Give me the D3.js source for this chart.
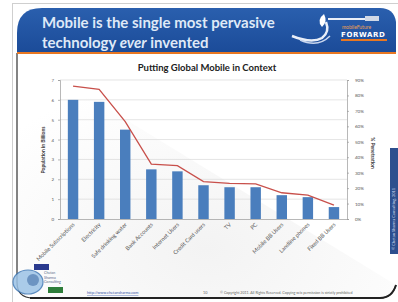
<!DOCTYPE html>
<html>
<head>
<meta charset="utf-8">
<script src="https://cdn.jsdelivr.net/npm/d3@7"></script>
<style>
  html, body { margin: 0; padding: 0; background: #fff; }
  svg { display: block; }
</style>
</head>
<body>
<svg id="chart" width="398" height="302"></svg>
<script>
const categories = ["Mobile Subscriptions", "Electricity", "Safe drinking water", "Bank Accounts",
  "Internet Users", "Credit Card users", "TV", "PC", "Mobile BB Users", "Landline phones", "Fixed BB Users"];
const population = [6.0, 5.9, 4.5, 2.5, 2.4, 1.7, 1.6, 1.6, 1.2, 1.1, 0.6];
const penetration = [0.86, 0.84, 0.63, 0.355, 0.345, 0.242, 0.231, 0.228, 0.17, 0.155, 0.09];
const leftTicks = [0, 1, 2, 3, 4, 5, 6, 7];
const rightTicks = [0, 0.1, 0.2, 0.3, 0.4, 0.5, 0.6, 0.7, 0.8, 0.9];
const slideTitle = ["Mobile is the single most pervasive", "technology ", "ever", " invented"];
const chartTitle = "Putting Global Mobile in Context";

const svg = d3.select("#chart");
const font = "Lato, 'Open Sans', sans-serif";

// page background / outer border
svg.append("rect").attr("x", 0).attr("y", 0).attr("width", 398).attr("height", 302).attr("fill", "#fff");
svg.append("rect").attr("x", 12.5).attr("y", 3.5).attr("width", 400).attr("height", 310)
  .attr("fill", "none").attr("stroke", "#cfcfcf").attr("stroke-width", 1);

// slide frame
const defs = svg.append("defs");
const grad = defs.append("linearGradient").attr("id", "hdr").attr("x1", 0).attr("y1", 0).attr("x2", 0).attr("y2", 1);
grad.append("stop").attr("offset", "0%").attr("stop-color", "#2a5fae");
grad.append("stop").attr("offset", "100%").attr("stop-color", "#1b4b98");
const bg = defs.append("radialGradient").attr("id", "bgG").attr("cx", "0.5").attr("cy", "0.8").attr("r", "0.7");
bg.append("stop").attr("offset", "0%").attr("stop-color", "#f3f3f3");
bg.append("stop").attr("offset", "100%").attr("stop-color", "#ffffff");

svg.append("path")
  .attr("d", "M17,53 L17,282 Q17,298 33,298 L380,298 Q392,298 396,285")
  .attr("fill", "url(#bgG)").attr("stroke", "#333").attr("stroke-width", 1.2);
svg.append("path")
  .attr("d", "M30,298 L380,298 Q392,298 396,285").attr("fill", "none").attr("stroke", "#222").attr("stroke-width", 2);

// header
svg.append("path")
  .attr("d", "M17,53 L17,33 Q17,8 42,8 L380,8 Q394,8 396,22 L396,53 Z")
  .attr("fill", "url(#hdr)");
svg.append("rect").attr("x", 17).attr("y", 52).attr("width", 379).attr("height", 2).attr("fill", "#e87722");

const ht = svg.append("text").attr("font-family", "Lato, 'Open Sans', sans-serif").attr("font-weight", "bold")
  .attr("font-size", 15).attr("fill", "#dfe9f7");
ht.append("tspan").attr("x", 42).attr("y", 28).text(slideTitle[0]);
const l2 = ht.append("tspan").attr("x", 42).attr("y", 48);
l2.text(slideTitle[1]);
ht.append("tspan").attr("font-style", "italic").text(slideTitle[2]);
ht.append("tspan").text(slideTitle[3]);

// logo
const logo = svg.append("g");
logo.append("path").attr("d", "M292,36 Q312,44 322,38 Q330,32 326,22")
  .attr("fill", "none").attr("stroke", "#e8eef8").attr("stroke-width", 2.5);
logo.append("path").attr("d", "M300,40 Q318,48 330,36")
  .attr("fill", "none").attr("stroke", "#c9d6ee").attr("stroke-width", 1.5);
logo.append("path").attr("d", "M324,14 Q316,20 322,27 Q328,22 324,14 Z").attr("fill", "#ffffff");
logo.append("rect").attr("x", 328).attr("y", 18).attr("width", 50).attr("height", 2).attr("fill", "#e8eef8");
logo.append("rect").attr("x", 365).attr("y", 16).attr("width", 14).attr("height", 5).attr("fill", "#d0d8e6");
logo.append("text").attr("x", 342).attr("y", 29).attr("font-family", font).attr("font-size", 5)
  .attr("fill", "#f0a050").text("mobileFuture");
logo.append("text").attr("x", 341).attr("y", 37).attr("font-family", "'DejaVu Sans', sans-serif")
  .attr("font-weight", "bold").attr("font-size", 7).attr("fill", "#ffffff").attr("letter-spacing", 0.6).text("FORWARD");
logo.append("rect").attr("x", 341).attr("y", 39).attr("width", 46).attr("height", 2).attr("fill", "#e87722");

// right vertical tab
svg.append("rect").attr("x", 390).attr("y", 148).attr("width", 8).attr("height", 106).attr("fill", "#2d4f8e");
svg.append("text").attr("transform", "translate(395,250) rotate(-90)").attr("font-family", font)
  .attr("font-size", 4).attr("fill", "#c8d4ea").text("© Chetan Sharma Consulting, 2011");

// chart
const x0 = 60, x1 = 347, yTop = 80, yBot = 219;
const x = d3.scaleBand().domain(categories).range([x0, x1]).paddingInner(0.6).paddingOuter(0.3);
const yL = d3.scaleLinear().domain([0, 7]).range([yBot, yTop]);
const yR = d3.scaleLinear().domain([0, 0.9]).range([yBot, yTop]);

svg.append("text").attr("x", 207).attr("y", 71).attr("text-anchor", "middle").attr("font-family", font)
  .attr("font-weight", "bold").attr("font-size", 9.5).attr("fill", "#222").text(chartTitle);

// gridlines
svg.append("g").selectAll("line").data(leftTicks.slice(1)).join("line")
  .attr("x1", x0).attr("x2", x1).attr("y1", d => yL(d)).attr("y2", d => yL(d))
  .attr("stroke", "#d8d8d8").attr("stroke-width", 0.7);

// axes
const axL = svg.append("g").attr("transform", `translate(${x0},0)`)
  .call(d3.axisLeft(yL).tickValues(leftTicks).tickSize(2).tickPadding(4).tickFormat(d3.format("d")));
const axR = svg.append("g").attr("transform", `translate(${x1},0)`)
  .call(d3.axisRight(yR).tickValues(rightTicks).tickSize(2).tickPadding(6).tickFormat(d3.format(".0%")));
const axB = svg.append("g").attr("transform", `translate(0,${yBot})`)
  .call(d3.axisBottom(x).tickSize(0).tickFormat(""));
[axL, axR, axB].forEach(a => {
  a.selectAll("path,line").attr("stroke", "#9a9a9a").attr("stroke-width", 0.7);
  a.selectAll("text").attr("font-family", font).attr("font-size", 4.5).attr("fill", "#555");
});

// bars
svg.append("g").selectAll("rect").data(population).join("rect")
  .attr("x", (d, i) => x(categories[i])).attr("width", x.bandwidth())
  .attr("y", d => yL(d)).attr("height", d => yL(0) - yL(d))
  .attr("fill", "#4a7ebd");

// line
const line = d3.line().x((d, i) => x(categories[i]) + x.bandwidth() / 2).y(d => yR(d));
svg.append("path").datum(penetration).attr("d", line)
  .attr("fill", "none").attr("stroke", "#c8504b").attr("stroke-width", 1.3);

// category labels
svg.append("g").selectAll("text").data(categories).join("text")
  .attr("transform", d => `translate(${x(d) + x.bandwidth() / 2 + 2},${yBot + 6}) rotate(-45)`)
  .attr("text-anchor", "end").attr("font-family", font).attr("font-size", 5.6).attr("fill", "#555")
  .text(d => d);

// axis titles
svg.append("text").attr("transform", `translate(45,150) rotate(-90)`).attr("text-anchor", "middle")
  .attr("font-family", font).attr("font-weight", "bold").attr("font-size", 5).attr("fill", "#333")
  .text("Population in Billions");
svg.append("text").attr("transform", `translate(371,153) rotate(90)`).attr("text-anchor", "middle")
  .attr("font-family", font).attr("font-weight", "bold").attr("font-size", 5).attr("fill", "#333")
  .text("% Penetration");

// bottom-left logo
const bl = svg.append("g");
bl.append("rect").attr("x", 34).attr("y", 264).attr("width", 15).attr("height", 6).attr("fill", "#2a3a8e");
bl.append("rect").attr("x", 48).attr("y", 287).attr("width", 15).attr("height", 6).attr("fill", "#2e7d3a");
bl.append("ellipse").attr("cx", 28).attr("cy", 282).attr("rx", 15).attr("ry", 12)
  .attr("fill", "#9cc3e6").attr("stroke", "#3f78b5").attr("stroke-width", 1.2).attr("opacity", 0.85);
bl.append("circle").attr("cx", 33).attr("cy", 280).attr("r", 6).attr("fill", "#5c86b8").attr("opacity", 0.8);
const blt = bl.append("text").attr("font-family", font).attr("font-size", 3.6).attr("fill", "#5a6c8a");
["Chetan", "Sharma", "Consulting"].forEach((t, i) => blt.append("tspan").attr("x", 44).attr("y", 274 + i * 4.5).text(t));

// footer
svg.append("text").attr("x", 87).attr("y", 294).attr("font-family", font).attr("font-size", 3.8)
  .attr("fill", "#3355aa").attr("text-decoration", "underline").text("http://www.chetansharma.com");
svg.append("text").attr("x", 203).attr("y", 294).attr("font-family", font).attr("font-size", 3.8)
  .attr("fill", "#666").text("10");
svg.append("text").attr("x", 220).attr("y", 294).attr("font-family", font).attr("font-size", 3.6)
  .attr("fill", "#666").text("© Copyright 2011. All Rights Reserved. Copying w/o permission is strictly prohibited");
</script>
</body>
</html>
